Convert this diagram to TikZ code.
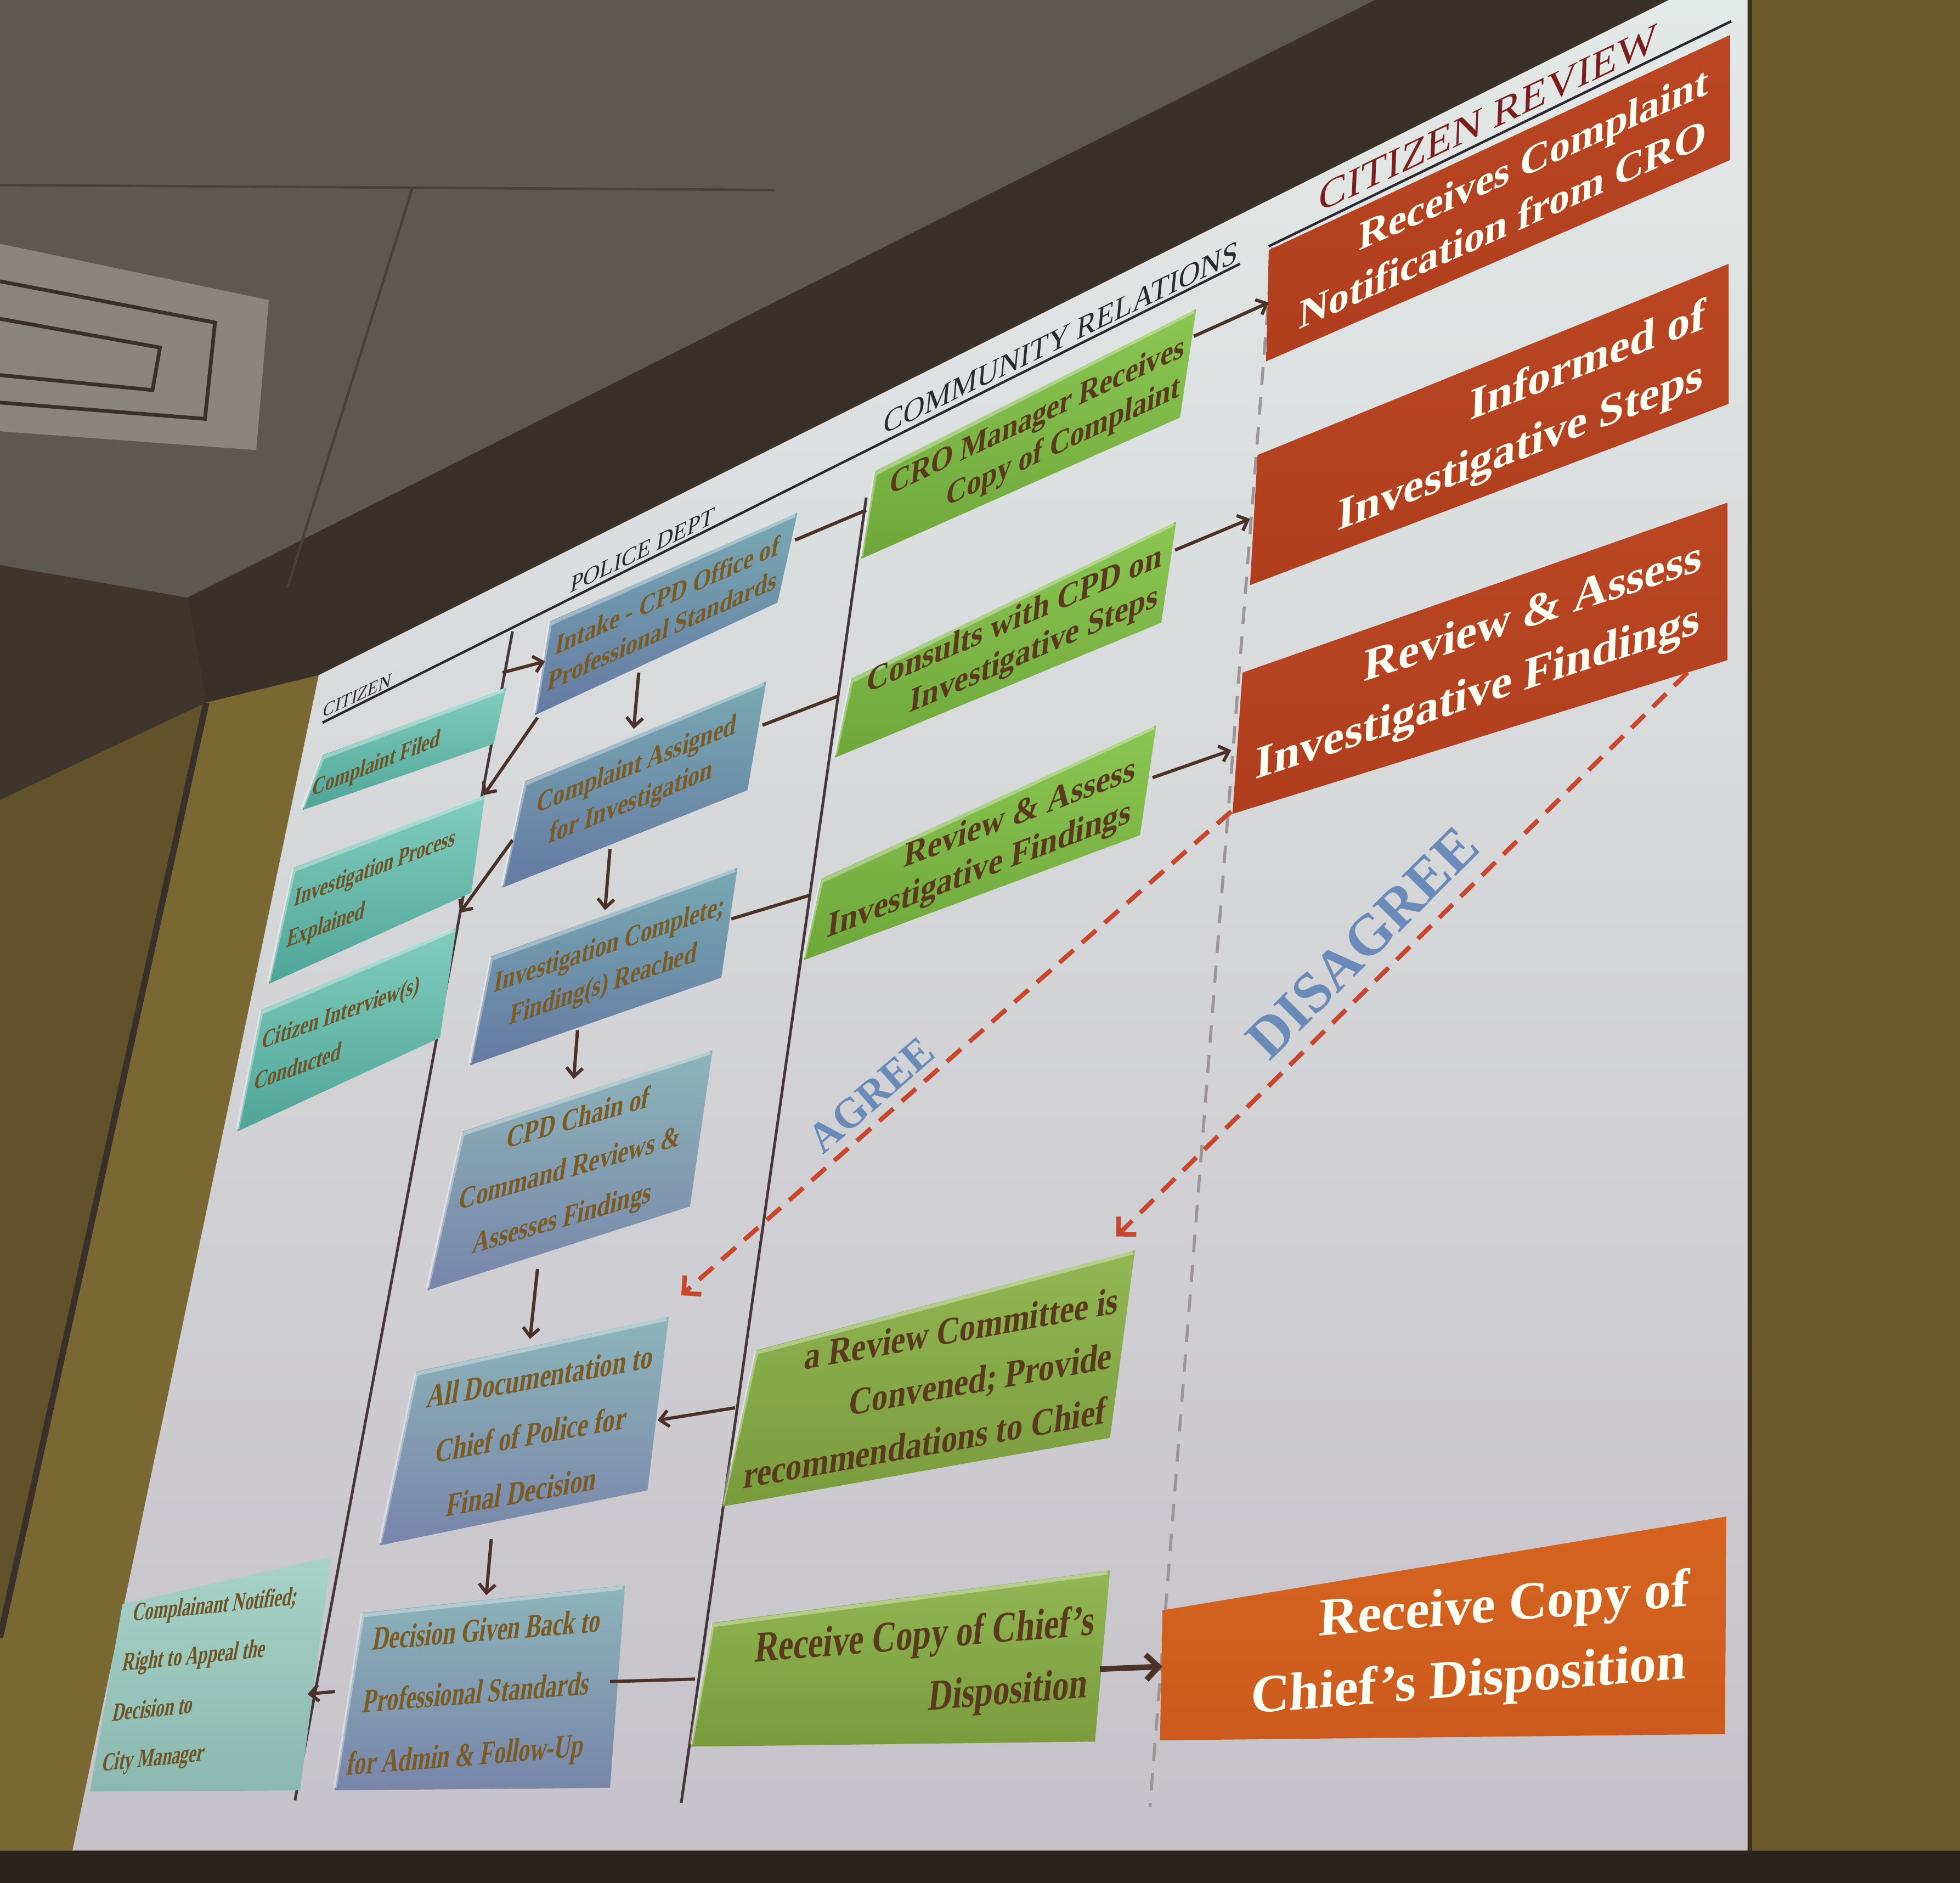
\documentclass[tikz,border=0pt]{standalone}
\usepackage{fontspec}
\setmainfont{Liberation Serif}
\usetikzlibrary{arrows.meta}
\definecolor{wallc}{HTML}{6C5929}
\definecolor{wallL}{HTML}{7A6832}
\definecolor{wallLL}{HTML}{62522A}
\definecolor{ceilc}{HTML}{5E5852}
\definecolor{housc}{HTML}{3A302A}
\definecolor{soffc}{HTML}{3F352C}
\definecolor{botc}{HTML}{2A2521}
\definecolor{ventc}{HTML}{8A857F}
\definecolor{slidetop}{HTML}{E3E9E7}
\definecolor{slidebot}{HTML}{C6C2C9}
\definecolor{redt}{HTML}{BA4623}
\definecolor{redb}{HTML}{B03E1E}
\definecolor{ort}{HTML}{D6641F}
\definecolor{orb}{HTML}{CC5A1E}
\definecolor{greent}{HTML}{8BC653}
\definecolor{greenb}{HTML}{6FA73B}
\definecolor{olivet}{HTML}{92B754}
\definecolor{oliveb}{HTML}{7A9B3C}
\definecolor{bluet}{HTML}{78A9B3}
\definecolor{blueb}{HTML}{657AA2}
\definecolor{bluebt}{HTML}{8DB5BA}
\definecolor{bluebb}{HTML}{7885AA}
\definecolor{tealt}{HTML}{82CDBF}
\definecolor{tealb}{HTML}{4FA598}
\definecolor{tealpt}{HTML}{A8D2C8}
\definecolor{tealpb}{HTML}{8BB9AF}
\definecolor{gtext}{HTML}{5A3A1D}
\definecolor{btext}{HTML}{7A5B24}
\definecolor{ttext}{HTML}{6E5325}
\definecolor{arrc}{HTML}{4B3229}
\definecolor{lanec}{HTML}{46373A}
\definecolor{dashgray}{HTML}{9C9497}
\definecolor{dashred}{HTML}{C8462B}
\definecolor{lblblue}{HTML}{6A8BB8}
\definecolor{hdrc}{HTML}{2C2830}
\definecolor{hdrred}{HTML}{7A1E1E}
\newcommand{\ptxt}[6]{\begin{scope}[shift={(#2)},cm={1,#3,#4,1,(0,0)},transform shape]\node[#5] (#1) at (0,0) {#6};\end{scope}}
\tikzset{
  bx/.style 2 args={top color=#1, bottom color=#2},
  bev/.style={draw=white, draw opacity=0.35, line width=3pt},
  fsz/.style 2 args={font=\bfseries\fontsize{#1}{#2}\selectfont},
  hsz/.style={font=\fontsize{#1}{#1}\selectfont},
  lbl/.style={inner sep=0pt},
  rt/.style={lbl, text=white!95!yellow},
  gt/.style={lbl, text=gtext},
  bt/.style={lbl, text=btext},
  tt/.style={lbl, text=ttext},
  conn/.style={draw=arrc, line width=2.6pt},
  arr/.style={conn, -{Straight Barb[length=7pt,width=13pt]}},
  bigarr/.style={draw=arrc, line width=4.5pt, -{Straight Barb[length=10pt,width=20pt]}},
  lane/.style={draw=lanec, line width=2.2pt},
  dlane/.style={draw=dashgray, line width=2.4pt, dash pattern=on 14pt off 10pt},
  redarr/.style={draw=dashred, line width=3.6pt, dash pattern=on 15pt off 9pt, -{Straight Barb[length=10pt,width=20pt]}},
  hline/.style={draw=hdrc, line width=2pt}
}
\begin{document}
\begin{tikzpicture}[x=1pt,y=-1pt]
\useasboundingbox (0,0) rectangle (1568,1506);
% ---------- room background ----------
\fill[wallc] (0,0) rectangle (1568,1506);
\fill[ceilc] (0,0) -- (1100,0) -- (150,478) -- (0,452) -- cycle;
\fill[housc] (1100,0) -- (1335,0) -- (255,540) -- (165,562) -- (150,478) -- cycle;
\fill[soffc] (0,452) -- (150,478) -- (165,562) -- (0,640) -- cycle;
\fill[wallL] (0,640) -- (165,562) -- (255,540) -- (58,1480) -- (0,1480) -- cycle;
\fill[wallLL] (0,640) -- (165,562) -- (0,1310) -- cycle;
\draw[housc, line width=5pt] (165,562) -- (0,1310);
\fill[ventc] (0,195) -- (215,240) -- (205,360) -- (0,345) -- cycle;
\draw[housc, line width=3pt] (0,225) -- (172,258) -- (164,335) -- (0,322);
\draw[housc, line width=3pt] (0,255) -- (128,278) -- (122,312) -- (0,300);
\draw[housc!60!ceilc, line width=2pt] (0,148) -- (620,152);
\draw[housc!60!ceilc, line width=2pt] (330,150) -- (230,470);
\fill[botc] (0,1480) rectangle (1568,1506);
% ---------- slide ----------
\shade[top color=slidetop, bottom color=slidebot] (255,540) -- (1335,0) -- (1398,0) -- (1398,1480) -- (58,1480) -- cycle;
\draw[housc, line width=3pt] (1400,0) -- (1400,1480);
% ---------- header lines and lanes ----------
\draw[hline] (258,578) -- (992,211);
\draw[hline] (1015,197) -- (1385,17);
\draw[lane] (410,505) -- (236,1440);
\draw[lane] (693,398) -- (545,1442);
\draw[dlane] (1018,198) -- (920,1445);
% ---------- boxes ----------
\shade[bx={redt}{redb}] (1015,200) -- (1384,28) -- (1384,128) -- (1013,289) -- cycle;
\shade[bx={redt}{redb}] (1006,364) -- (1383,211) -- (1383,323) -- (1000,468) -- cycle;
\shade[bx={redt}{redb}] (994,538) -- (1382,402) -- (1382,528) -- (986,651) -- cycle;
\shade[bx={ort}{orb}] (930,1288) -- (1381,1213) -- (1380,1387) -- (928,1392) -- cycle;
\shade[bx={greent}{greenb}] (700,377) -- (957,247) -- (944,334) -- (689,447) -- cycle;
\shade[bx={greent}{greenb}] (681,543) -- (941,417) -- (929,498) -- (668,606) -- cycle;
\shade[bx={greent}{greenb}] (657,703) -- (925,580) -- (912,668) -- (643,768) -- cycle;
\shade[bx={olivet}{oliveb}] (605,1080) -- (908,1000) -- (888,1150) -- (578,1205) -- cycle;
\shade[bx={olivet}{oliveb}] (570,1298) -- (888,1256) -- (876,1393) -- (553,1397) -- cycle;
\shade[bx={bluet}{blueb}] (440,497) -- (638,410) -- (622,482) -- (428,572) -- cycle;
\shade[bx={bluet}{blueb}] (420,625) -- (613,545) -- (598,632) -- (402,710) -- cycle;
\shade[bx={bluet}{blueb}] (393,765) -- (590,694) -- (577,782) -- (376,852) -- cycle;
\shade[bx={bluebt}{bluebb}] (370,905) -- (570,840) -- (552,965) -- (342,1032) -- cycle;
\shade[bx={bluebt}{bluebb}] (333,1097) -- (535,1053) -- (518,1192) -- (304,1236) -- cycle;
\shade[bx={bluebt}{bluebb}] (290,1290) -- (500,1268) -- (488,1430) -- (268,1432) -- cycle;
\shade[bx={tealt}{tealb}] (258,604) -- (405,550) -- (395,595) -- (242,648) -- cycle;
\shade[bx={tealt}{tealb}] (235,694) -- (388,636) -- (377,714) -- (215,787) -- cycle;
\shade[bx={tealt}{tealb}] (209,808) -- (365,742) -- (352,830) -- (190,905) -- cycle;
\shade[bx={tealpt}{tealpb}] (98,1283) -- (265,1245) -- (240,1432) -- (72,1433) -- cycle;
% bevel highlights along the top edges
\draw[bev] (689,445) -- (700,379) -- (955,249);
\draw[bev] (668,604) -- (681,545) -- (939,419);
\draw[bev] (643,766) -- (657,705) -- (923,582);
\draw[bev] (578,1203) -- (605,1082) -- (906,1002);
\draw[bev] (553,1395) -- (570,1300) -- (886,1258);
\draw[bev] (428,570) -- (440,499) -- (636,412);
\draw[bev] (402,708) -- (420,627) -- (611,547);
\draw[bev] (376,850) -- (393,767) -- (588,696);
\draw[bev] (342,1030) -- (370,907) -- (568,842);
\draw[bev] (304,1234) -- (333,1099) -- (533,1055);
\draw[bev] (268,1430) -- (290,1292) -- (498,1270);
\draw[bev] (242,646) -- (258,606) -- (403,552);
\draw[bev] (215,785) -- (235,696) -- (386,638);
\draw[bev] (190,903) -- (209,810) -- (363,744);
% ---------- headers ----------
\ptxt{hcr}{1190,106}{0.48}{0.04}{lbl, anchor=south, text=hdrred, hsz=33, xscale=1.02}{CITIZEN REVIEW}
\ptxt{hcom}{848,279}{0.49}{0.094}{lbl, anchor=south, text=hdrc, hsz=26, xscale=0.91}{COMMUNITY RELATIONS}
\ptxt{hpol}{513,447}{0.49}{0.148}{lbl, anchor=south, text=hdrc, hsz=20, xscale=0.92}{POLICE DEPT}
\ptxt{hcit}{285,562}{0.47}{0.184}{lbl, anchor=south, text=hdrc, hsz=16, xscale=0.87}{CITIZEN}
% ---------- box texts ----------
\ptxt{r1}{1203,158}{0.45}{0.037}{rt, fsz={33}{42}, align=right}{Receives Complaint\\Notification from CRO}
\ptxt{r2}{1217,335}{0.39}{0.035}{rt, fsz={36}{48}, align=right, xscale=1.02}{Informed of\\Investigative Steps}
\ptxt{r3}{1183,531}{0.33}{0.041}{rt, fsz={37}{50}, align=right, xscale=1.02}{Review \& Assess\\Investigative Findings}
\ptxt{r4}{1176,1317}{0.08}{0.042}{rt, fsz={43}{58}, align=right}{Receive Copy of\\Chief's Disposition}
\ptxt{g1}{828,350}{0.47}{0.098}{gt, fsz={27}{32}, align=right, xscale=0.85}{CRO Manager Receives\\Copy of Complaint}
\ptxt{g2}{810,513}{0.43}{0.10}{gt, fsz={28}{32}, align=right, xscale=0.89}{Consults with CPD on\\Investigative Steps}
\ptxt{g3}{785,680}{0.38}{0.104}{gt, fsz={29}{34}, align=right, xscale=0.89}{Review \& Assess\\Investigative Findings}
\ptxt{g4}{745,1110}{0.18}{0.111}{gt, fsz={31}{44}, align=right, xscale=0.83}{a Review Committee is\\Convened; Provide\\recommendations to Chief}
\ptxt{g5}{737,1335}{0.08}{0.112}{gt, fsz={35}{50}, align=right, xscale=0.76}{Receive Copy of Chief's\\Disposition}
\ptxt{p1}{532,490}{0.45}{0.145}{bt, fsz={23}{28}, align=center, xscale=0.81}{Intake - CPD Office of\\Professional Standards}
\ptxt{p2}{507,628}{0.40}{0.149}{bt, fsz={24}{30}, align=center, xscale=0.77}{Complaint Assigned\\for Investigation}
\ptxt{p3}{485,773}{0.34}{0.152}{bt, fsz={24}{32}, align=center, xscale=0.75}{Investigation Complete;\\Finding(s) Reached}
\ptxt{p4}{456,936}{0.29}{0.157}{bt, fsz={25}{40}, align=center, xscale=0.76}{CPD Chain of\\Command Reviews \&\\Assesses Findings}
\ptxt{p5}{425,1147}{0.18}{0.162}{bt, fsz={27}{46}, align=center, xscale=0.73}{All Documentation to\\Chief of Police for\\Final Decision}
\ptxt{p6}{381,1356}{0.08}{0.169}{bt, fsz={27}{50}, align=center, xscale=0.68}{Decision Given Back to\\Professional Standards\\for Admin \& Follow-Up}
\ptxt{c1}{301,612}{0.40}{0.182}{tt, fsz={20}{24}, xscale=0.73}{Complaint Filed}
\ptxt{c2}{297,712}{0.38}{0.182}{tt, fsz={21}{33}, align=left, xscale=0.68}{Investigation Process\\Explained}
\ptxt{c3}{270,826}{0.36}{0.187}{tt, fsz={21}{33}, align=left, xscale=0.71}{Citizen Interview(s)\\Conducted}
\ptxt{c4}{160,1345}{0.10}{0.204}{tt, fsz={21}{40}, align=left, xscale=0.65}{Complainant Notified;\\Right to Appeal the\\Decision to\\City Manager}
% ---------- connector end points ----------
\coordinate (c1e) at (402,538);  \coordinate (p1w) at (436,529);
\coordinate (p1sw) at (430,574); \coordinate (c2ne) at (387,636);
\coordinate (p2w) at (410,672);  \coordinate (c3ne) at (368,730);
\coordinate (p1s) at (511,538);  \coordinate (p2n) at (507,583);
\coordinate (p2s) at (488,679);  \coordinate (p3n) at (484,728);
\coordinate (p3s) at (462,824);  \coordinate (p4n) at (459,863);
\coordinate (p4s) at (430,1015); \coordinate (p5n) at (424,1071);
\coordinate (p5s) at (393,1231); \coordinate (p6n) at (389,1276);
\coordinate (p1e) at (636,432);  \coordinate (g1w) at (693,408);
\coordinate (p2e) at (610,580);  \coordinate (g2w) at (670,557);
\coordinate (p3e) at (585,735);  \coordinate (g3w) at (648,716);
\coordinate (g1e) at (955,269);  \coordinate (r1w) at (1015,242);
\coordinate (g2e) at (940,440);  \coordinate (r2w) at (1000,415);
\coordinate (g3e) at (922,622);  \coordinate (r3w) at (985,600);
\coordinate (g4w) at (588,1126); \coordinate (p5e) at (526,1136);
\coordinate (g5w) at (556,1343); \coordinate (p6e) at (488,1345);
\coordinate (p6w) at (268,1353); \coordinate (c4e) at (246,1355);
\coordinate (g5e) at (880,1335); \coordinate (r4w) at (930,1333);
\coordinate (r3sw) at (985,649); \coordinate (p5ne) at (545,1036);
\coordinate (r3se) at (1350,538); \coordinate (g4ne) at (893,989);
% ---------- connectors ----------
\draw[arr] (c1e) -- (p1w);
\draw[arr] (p1sw) -- (c2ne);
\draw[arr] (p2w) -- (c3ne);
\draw[arr] (p1s) -- (p2n);
\draw[arr] (p2s) -- (p3n);
\draw[arr] (p3s) -- (p4n);
\draw[arr] (p4s) -- (p5n);
\draw[arr] (p5s) -- (p6n);
\draw[conn] (p1e) -- (g1w);
\draw[conn] (p2e) -- (g2w);
\draw[conn] (p3e) -- (g3w);
\draw[arr] (g1e) -- (r1w);
\draw[arr] (g2e) -- (r2w);
\draw[arr] (g3e) -- (r3w);
\draw[arr] (g4w) -- (p5e);
\draw[conn] (g5w) -- (p6e);
\draw[arr] (p6w) -- (c4e);
\draw[bigarr] (g5e) -- (r4w);
\draw[redarr] (r3sw) -- (p5ne);
\draw[redarr] (r3se) -- (g4ne);
% ---------- decision labels ----------
\node[lbl, rotate=41, text=lblblue, font=\bfseries\fontsize{34}{34}\selectfont] (agree) at (697,876) {AGREE};
\node[lbl, rotate=45, text=lblblue, font=\bfseries\fontsize{46}{46}\selectfont] (disagree) at (1090,754) {DISAGREE};
\end{tikzpicture}
\end{document}
